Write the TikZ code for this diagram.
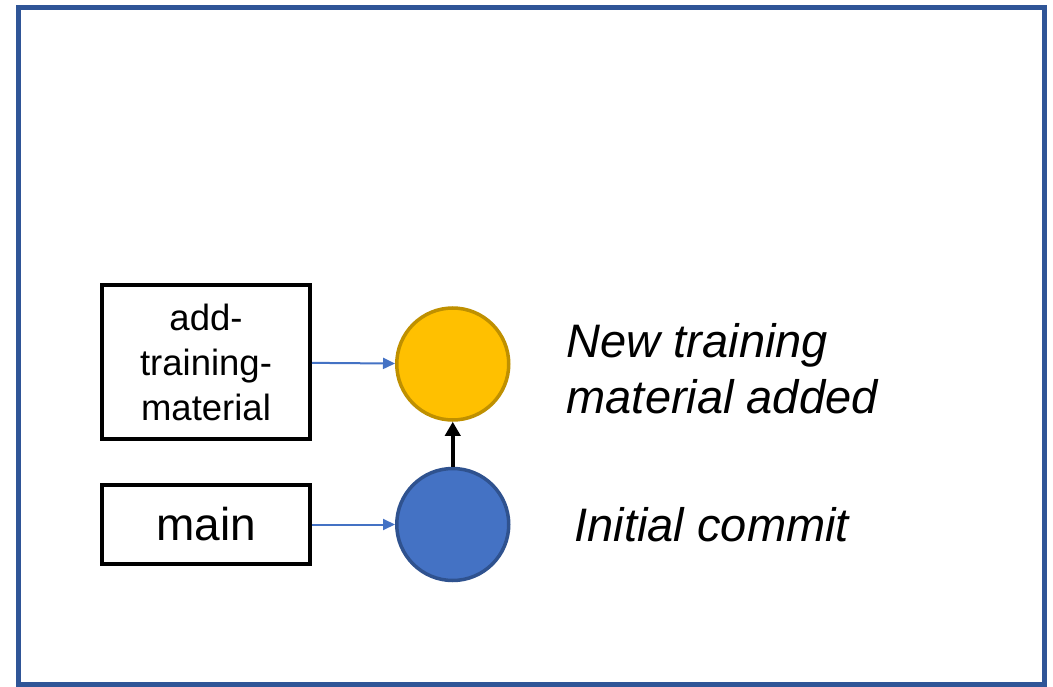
\documentclass[tikz,border=0pt]{standalone}
\usepackage{fontspec}
\setmainfont{Liberation Sans}
\usetikzlibrary{arrows.meta, positioning}
\definecolor{frameBlue}{HTML}{2F5597}
\definecolor{commitBlue}{HTML}{4472C4}
\definecolor{commitBlueDark}{HTML}{2F528F}
\definecolor{commitYellow}{HTML}{FFC000}
\definecolor{commitYellowDark}{HTML}{BF9000}
\tikzstyle{branchBox} = [draw, rectangle, line width=4pt, minimum width=208pt,
   inner sep=0pt, align=center]
\tikzstyle{commit} = [draw, circle, line width=3.5pt, minimum size=112pt, inner sep=0pt]
\tikzstyle{commitText} = [inner sep=0pt, align=left, font=\fontsize{47}{56}\selectfont\itshape]
\tikzstyle{refArrow} = [-{Triangle[length=12pt,width=11pt]}, line width=2pt, draw=commitBlue]
\tikzstyle{parentArrow} = [-{Triangle[length=14pt,width=15pt]}, line width=3.5pt]

\begin{document}
\begin{tikzpicture}[x=1pt, y=1pt]
  \useasboundingbox (0,0) rectangle (1053,-687);
  \draw[frameBlue, line width=5pt] (18.5,-8) rectangle (1044.5,-684.5);

  % branch labels
  \node[branchBox, minimum height=79pt, font=\fontsize{46}{55}\selectfont] (m) at (206,-524.5) {main};
  \node[branchBox, minimum height=154pt, font=\fontsize{36.5}{45}\selectfont, above=42pt of m] (a) {add-\\training-\\material};

  % commits
  \node[commit, fill=commitBlue, draw=commitBlueDark, right=83pt of m] (c1) {};
  \node[commit, fill=commitYellow, draw=commitYellowDark, above=45pt of c1] (c2) {};
  \node[commitText, right=64pt of c1] (t1) {Initial commit};
  \node[commitText, right=56pt of c2, yshift=-5pt] (t2) {New training\\material added};

  \draw[refArrow] (a) -- (c2);
  \draw[refArrow] (m) -- (c1);
  \draw[parentArrow] (c1) -- (c2);
\end{tikzpicture}
\end{document}
